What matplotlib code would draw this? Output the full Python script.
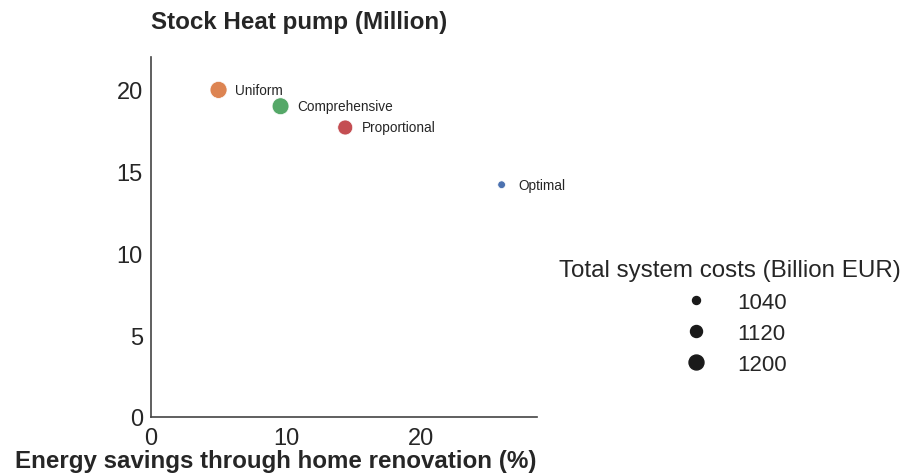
import numpy as np
import matplotlib
matplotlib.use("Agg")
import matplotlib.pyplot as plt
import seaborn as sns
from matplotlib.lines import Line2D

# --- datos ---
escenarios = ["Optimal", "Uniform", "Comprehensive", "Proportional"]
ahorro = [26.0, 5.0, 9.6, 14.4]          # Energy savings (%)
stock_hp = [14.2, 20.0, 19.0, 17.7]       # Stock heat pump (Million)
costes = [1035, 1265, 1260, 1200]         # Total system costs (Billion EUR)
colores = ["#4C72B0", "#DD8452", "#55A868", "#C44E52"]
niveles_leyenda = [1040, 1120, 1200]


def tam(c):
    # area del marcador (pt^2), lineal con el coste
    d2 = 64 + (np.asarray(c) - 1040) * 1.0
    return 0.518 * d2


sns.set_theme(style="white")
plt.rcParams["font.family"] = ["Liberation Sans", "DejaVu Sans"]

fig = plt.figure(figsize=(9.05, 4.77), dpi=100)
ax = fig.add_axes([0.167, 0.124, 0.426, 0.754])

ax.scatter(ahorro, stock_hp, s=tam(costes), c=colores, edgecolors="white", linewidths=0.5, zorder=3)

for x, y, nombre in zip(ahorro, stock_hp, escenarios):
    ax.annotate(nombre, (x, y), textcoords="offset points", xytext=(12, 0),
                ha="left", va="center", fontsize=9.8, color="#262626")

ax.set_xlim(0, 28.6)
ax.set_ylim(0, 22)
ax.set_xticks([0, 10, 20])
ax.set_yticks([0, 5, 10, 15, 20])
ax.tick_params(labelsize=17, colors="#262626", length=0)
ax.tick_params(axis="y", pad=6)
ax.tick_params(axis="x", pad=7)
sns.despine(ax=ax)
for s in ["left", "bottom"]:
    ax.spines[s].set_color("#444444")
    ax.spines[s].set_linewidth(1.2)

ax.set_title("Stock Heat pump (Million)", loc="left", fontsize=17.4, fontweight="bold", pad=21)
ax.set_xlabel("Energy savings through home renovation (%)", fontsize=17.4, fontweight="bold",
              loc="right", labelpad=0)

handles = [Line2D([], [], marker="o", linestyle="", color="#1a1a1a",
                  markersize=np.sqrt(tam(v))) for v in niveles_leyenda]
leg = fig.legend(handles, [str(v) for v in niveles_leyenda], title="Total system costs (Billion EUR)",
                 loc="center", bbox_to_anchor=(0.807, 0.333), frameon=False, fontsize=16,
                 title_fontsize=17.4, labelspacing=0.45, handletextpad=0.88)
leg._legend_box.sep = 8

fig.savefig("out.png", dpi=100)
